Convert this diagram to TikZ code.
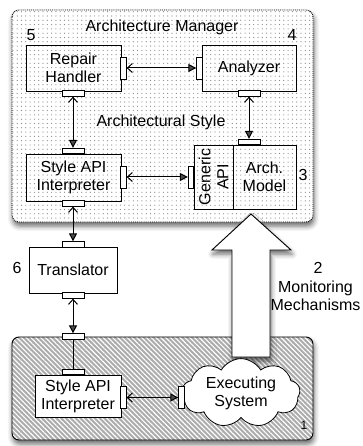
\documentclass[tikz,border=0pt]{standalone}
\usepackage{fontspec}
\setmainfont{Liberation Sans}
\usetikzlibrary{arrows.meta,shapes.symbols,shadows.blur,patterns.meta}
\begin{document}
\begin{tikzpicture}[x=1pt,y=-1pt,
  every node/.style={font=\fontsize{16}{18}\selectfont},
  box/.style={draw,line width=0.8pt,align=center,inner sep=0pt},
  wbox/.style={box,fill=white},
  port/.style={draw,fill=white,line width=0.8pt,inner sep=0pt},
  hport/.style={port,minimum width=22pt,minimum height=5.5pt},
  vport/.style={port,minimum width=5.5pt,minimum height=22pt},
  link/.style={line width=1pt,{Straight Barb[length=5pt,width=9pt]}-{Triangle[length=8pt,width=8pt]}},
  plain/.style={line width=1pt},
  shade/.style={blur shadow={shadow xshift=1pt,shadow yshift=-4pt,shadow blur radius=5pt,shadow opacity=60}},
  lbl/.style={inner sep=0pt},
]
\useasboundingbox (0,0) rectangle (363,446);

% Architecture manager container
\draw[shade,preaction={fill=white},pattern={Dots[distance=4.3pt,radius=0.6pt]},pattern color=gray!95,
      densely dotted,line width=0.9pt,rounded corners=7pt] (12,10) rectangle (313,222);
\node[lbl] (amt) at (162,27) {Architecture Manager};
\node[lbl] (ast) at (161,122) {Architectural Style};

% boxes in manager
\node[box,minimum width=95pt,minimum height=46pt] (rh) at (73.5,68) {Repair\\Handler};
\node[box,minimum width=94pt,minimum height=46pt] (an) at (249,68) {Analyzer};
\node[box,minimum width=95pt,minimum height=47pt] (sa) at (73.5,177.5) {Style API\\Interpreter};
\node[box,minimum width=64pt,minimum height=39pt,rotate=90] (ga) at (213.5,177) {Generic\\API};
\node[box,minimum width=63pt,minimum height=64pt] (am) at (264.5,177) {Arch.\\Model};

% ports
\node[hport] (rhB) at (73,93.5) {};
\node[vport] (rhR) at (123.5,68) {};
\node[vport] (anL) at (199.5,68) {};
\node[hport] (anB) at (249,93.5) {};
\node[hport] (saT) at (73,151) {};
\node[vport] (saR) at (123.5,177) {};
\node[hport] (saB) at (73,203.5) {};
\node[vport] (gaL) at (191,177) {};
\node[hport] (amT) at (249,142) {};

% numbers
\node[lbl] (n5) at (31,35) {5};
\node[lbl] (n4) at (292,35) {4};
\node[lbl] (n3) at (303,175) {3};

% bottom container
\draw[shade,preaction={fill=gray!65},pattern={Lines[angle=-45,distance=3.4pt,line width=1.1pt]},pattern color=white,
      line width=0.9pt,rounded corners=7pt] (12,337) rectangle (313,440);
\node[lbl,font=\fontsize{12}{14}\selectfont] (n1) at (304,425) {1};

% big monitoring arrow
\draw[shade,fill=white,line width=0.9pt,line join=miter]
  (251,214) -- (291,250) -- (270,250) -- (270,357) -- (232,357) -- (232,250) -- (212,250) -- cycle;
\node[lbl] (n2) at (318,268) {2};
\node[lbl,align=center] (mm) at (315.5,296) {Monitoring\\Mechanisms};

% translator
\node[wbox,minimum width=88pt,minimum height=46pt] (tr) at (73,270) {Translator};
\node[hport] (trT) at (73,244.5) {};
\node[hport] (trB) at (73,295.5) {};
\node[lbl] (n6) at (17,268) {6};

% bottom contents
\node[hport] (bxT) at (73,336.5) {};
\node[wbox,minimum width=86pt,minimum height=42pt] (sb) at (78,396) {Style API\\Interpreter};
\node[hport] (sbT) at (73,372) {};
\node[vport] (sbR) at (123.5,397.5) {};
\node[cloud,draw,fill=white,line width=0.8pt,cloud puffs=9,cloud puff arc=120,aspect=1.9,
      minimum width=118pt,minimum height=62pt,inner sep=0pt,align=center] (es) at (241,393) {Executing\\System};
\node[vport] (esL) at (181.5,397.5) {};

% connectors
\draw[link] (rhR.east) -- (anL.west);
\draw[link] (rhB.south) -- (saT.north);
\draw[link] (anB.south) -- (amT.north);
\draw[link] (saR.east) -- (gaL.west);
\draw[link] (saB.south) -- (trT.north);
\draw[link] (trB.south) -- (bxT.north);
\draw[plain] (bxT.south) -- (sbT.north);
\draw[link] (sbR.east) -- (esL.west);
\end{tikzpicture}
\end{document}
